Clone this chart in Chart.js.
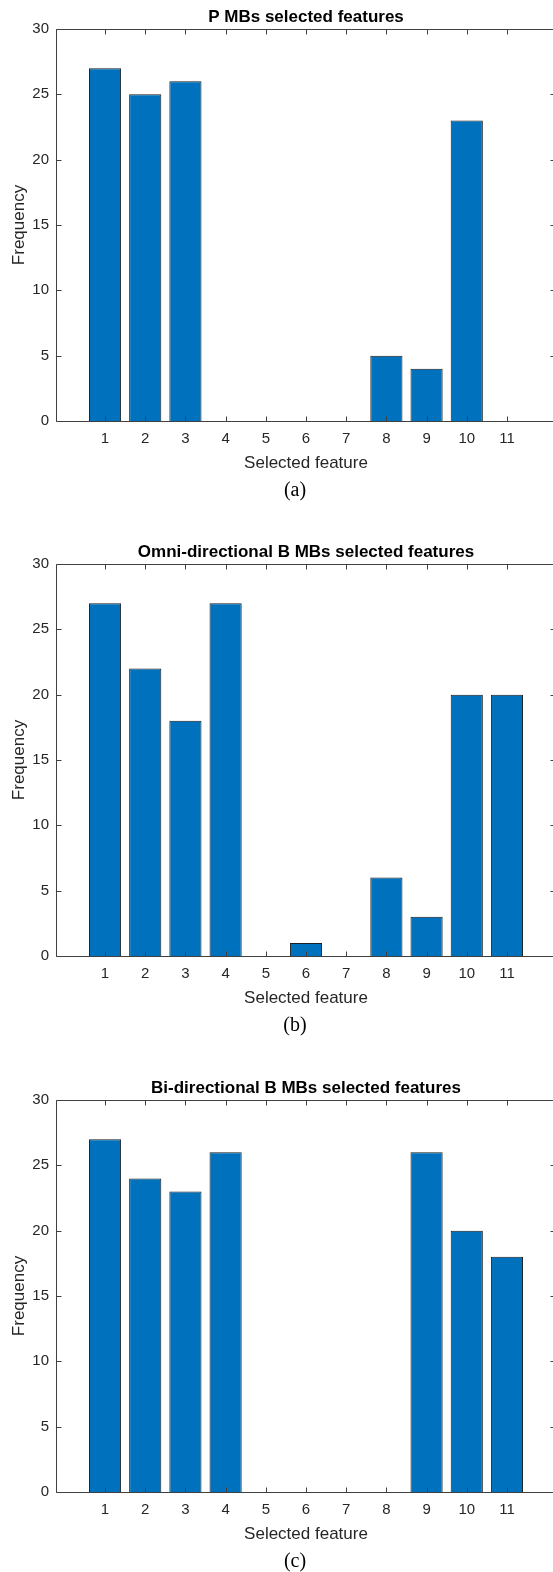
<!DOCTYPE html>
<html>
<head>
<meta charset="utf-8">
<script src="https://cdn.jsdelivr.net/npm/chart.js@4.4.1/dist/chart.umd.min.js"></script>
<style>
  html, body { margin: 0; padding: 0; background: #fff; }
  body { width: 553px; height: 1572px; overflow: hidden; position: relative; }
  .panel { position: absolute; left: 0; width: 560px; height: 535px; }
</style>
</head>
<body>
<canvas id="chartA" class="panel" width="560" height="535" style="top:0px"></canvas>
<canvas id="chartB" class="panel" width="560" height="535" style="top:535px"></canvas>
<canvas id="chartC" class="panel" width="560" height="535" style="top:1071px"></canvas>
<script>
// data
var features = [1, 2, 3, 4, 5, 6, 7, 8, 9, 10, 11];
var freqP = [27, 25, 26, 0, 0, 0, 0, 5, 4, 23, 0];
var freqOmni = [27, 22, 18, 27, 0, 1, 0, 6, 3, 20, 20];
var freqBi = [27, 24, 23, 26, 0, 0, 0, 0, 26, 20, 18];
var yTicks = [0, 5, 10, 15, 20, 25, 30];
var xLabel = 'Selected feature';
var yLabel = 'Frequency';

var axisColor = '#404040';
var textColor = '#262626';
var sans = '"Liberation Sans", Arial, Helvetica, sans-serif';
var serif = '"Liberation Serif", "Times New Roman", serif';

Chart.defaults.font.family = sans;

// box, inward ticks and texts, MATLAB style
var matlabAxes = {
    id: 'matlabAxes',
    afterDraw: function (chart, args, opts) {
        var ctx = chart.ctx;
        var a = chart.chartArea;
        var xs = chart.scales.x;
        var ys = chart.scales.y;
        var tl = 5;
        var L = Math.round(a.left) + 0.5, R = Math.round(a.right) - 0.5;
        var T = Math.round(a.top) + 0.5, B = Math.round(a.bottom) + 0.5;

        ctx.save();
        ctx.strokeStyle = axisColor;
        ctx.lineWidth = 1;
        ctx.beginPath();
        ctx.rect(L, T, R - L, B - T);
        features.forEach(function (v) {
            var px = Math.round(xs.getPixelForValue(v)) + 0.5;
            ctx.moveTo(px, B); ctx.lineTo(px, B - tl);
            ctx.moveTo(px, T); ctx.lineTo(px, T + tl);
        });
        yTicks.forEach(function (v) {
            var py = Math.round(ys.getPixelForValue(v)) + 0.5;
            ctx.moveTo(L, py); ctx.lineTo(L + tl, py);
            ctx.moveTo(R, py); ctx.lineTo(R - tl, py);
        });
        ctx.stroke();

        var cx = (a.left + a.right) / 2;
        ctx.textAlign = 'center';
        ctx.textBaseline = 'alphabetic';

        // title
        ctx.fillStyle = '#000';
        ctx.font = 'bold 17px ' + sans;
        ctx.fillText(opts.title, cx, a.top - 7);

        // x label
        ctx.fillStyle = textColor;
        ctx.font = '17px ' + sans;
        ctx.fillText(xLabel, cx, a.bottom + 47);

        // y label
        ctx.save();
        ctx.translate(24, (a.top + a.bottom) / 2);
        ctx.rotate(-Math.PI / 2);
        ctx.fillText(yLabel, 0, 0);
        ctx.restore();

        // caption
        ctx.fillStyle = '#000';
        ctx.font = '20px ' + serif;
        ctx.fillText(opts.caption, 295, a.bottom + 75);
        ctx.restore();
    }
};

function makeChart(id, values, title, caption) {
    return new Chart(document.getElementById(id), {
        type: 'bar',
        data: {
            labels: features,
            datasets: [{
                data: values,
                backgroundColor: '#0072BD',
                borderColor: '#1a1a1a',
                borderWidth: 1,
                borderSkipped: 'start',
                categoryPercentage: 1,
                barPercentage: 0.8
            }]
        },
        options: {
            responsive: false,
            animation: false,
            events: [],
            layout: { padding: { top: 29, right: 4, left: 0, bottom: 0 } },
            plugins: {
                legend: { display: false },
                tooltip: { enabled: false },
                matlabAxes: { title: title, caption: caption }
            },
            scales: {
                x: {
                    type: 'linear',
                    offset: false,
                    min: -0.22,
                    max: 12.22,
                    grid: { display: false, drawTicks: false, offset: false },
                    border: { display: false },
                    afterBuildTicks: function (scale) {
                        scale.ticks = features.map(function (v) { return { value: v }; });
                    },
                    afterFit: function (scale) { scale.height = 114; },
                    ticks: {
                        autoSkip: false,
                        maxRotation: 0,
                        padding: 9,
                        color: textColor,
                        font: { size: 15 }
                    }
                },
                y: {
                    min: 0,
                    max: 30,
                    grid: { display: false, drawTicks: false },
                    border: { display: false },
                    afterBuildTicks: function (scale) {
                        scale.ticks = yTicks.map(function (v) { return { value: v }; });
                    },
                    afterFit: function (scale) { scale.width = 56; },
                    ticks: {
                        padding: 7,
                        color: textColor,
                        font: { size: 15 }
                    }
                }
            }
        },
        plugins: [matlabAxes]
    });
}

makeChart('chartA', freqP, 'P MBs selected features', '(a)');
makeChart('chartB', freqOmni, 'Omni-directional B MBs selected features', '(b)');
makeChart('chartC', freqBi, 'Bi-directional B MBs selected features', '(c)');
</script>
</body>
</html>
